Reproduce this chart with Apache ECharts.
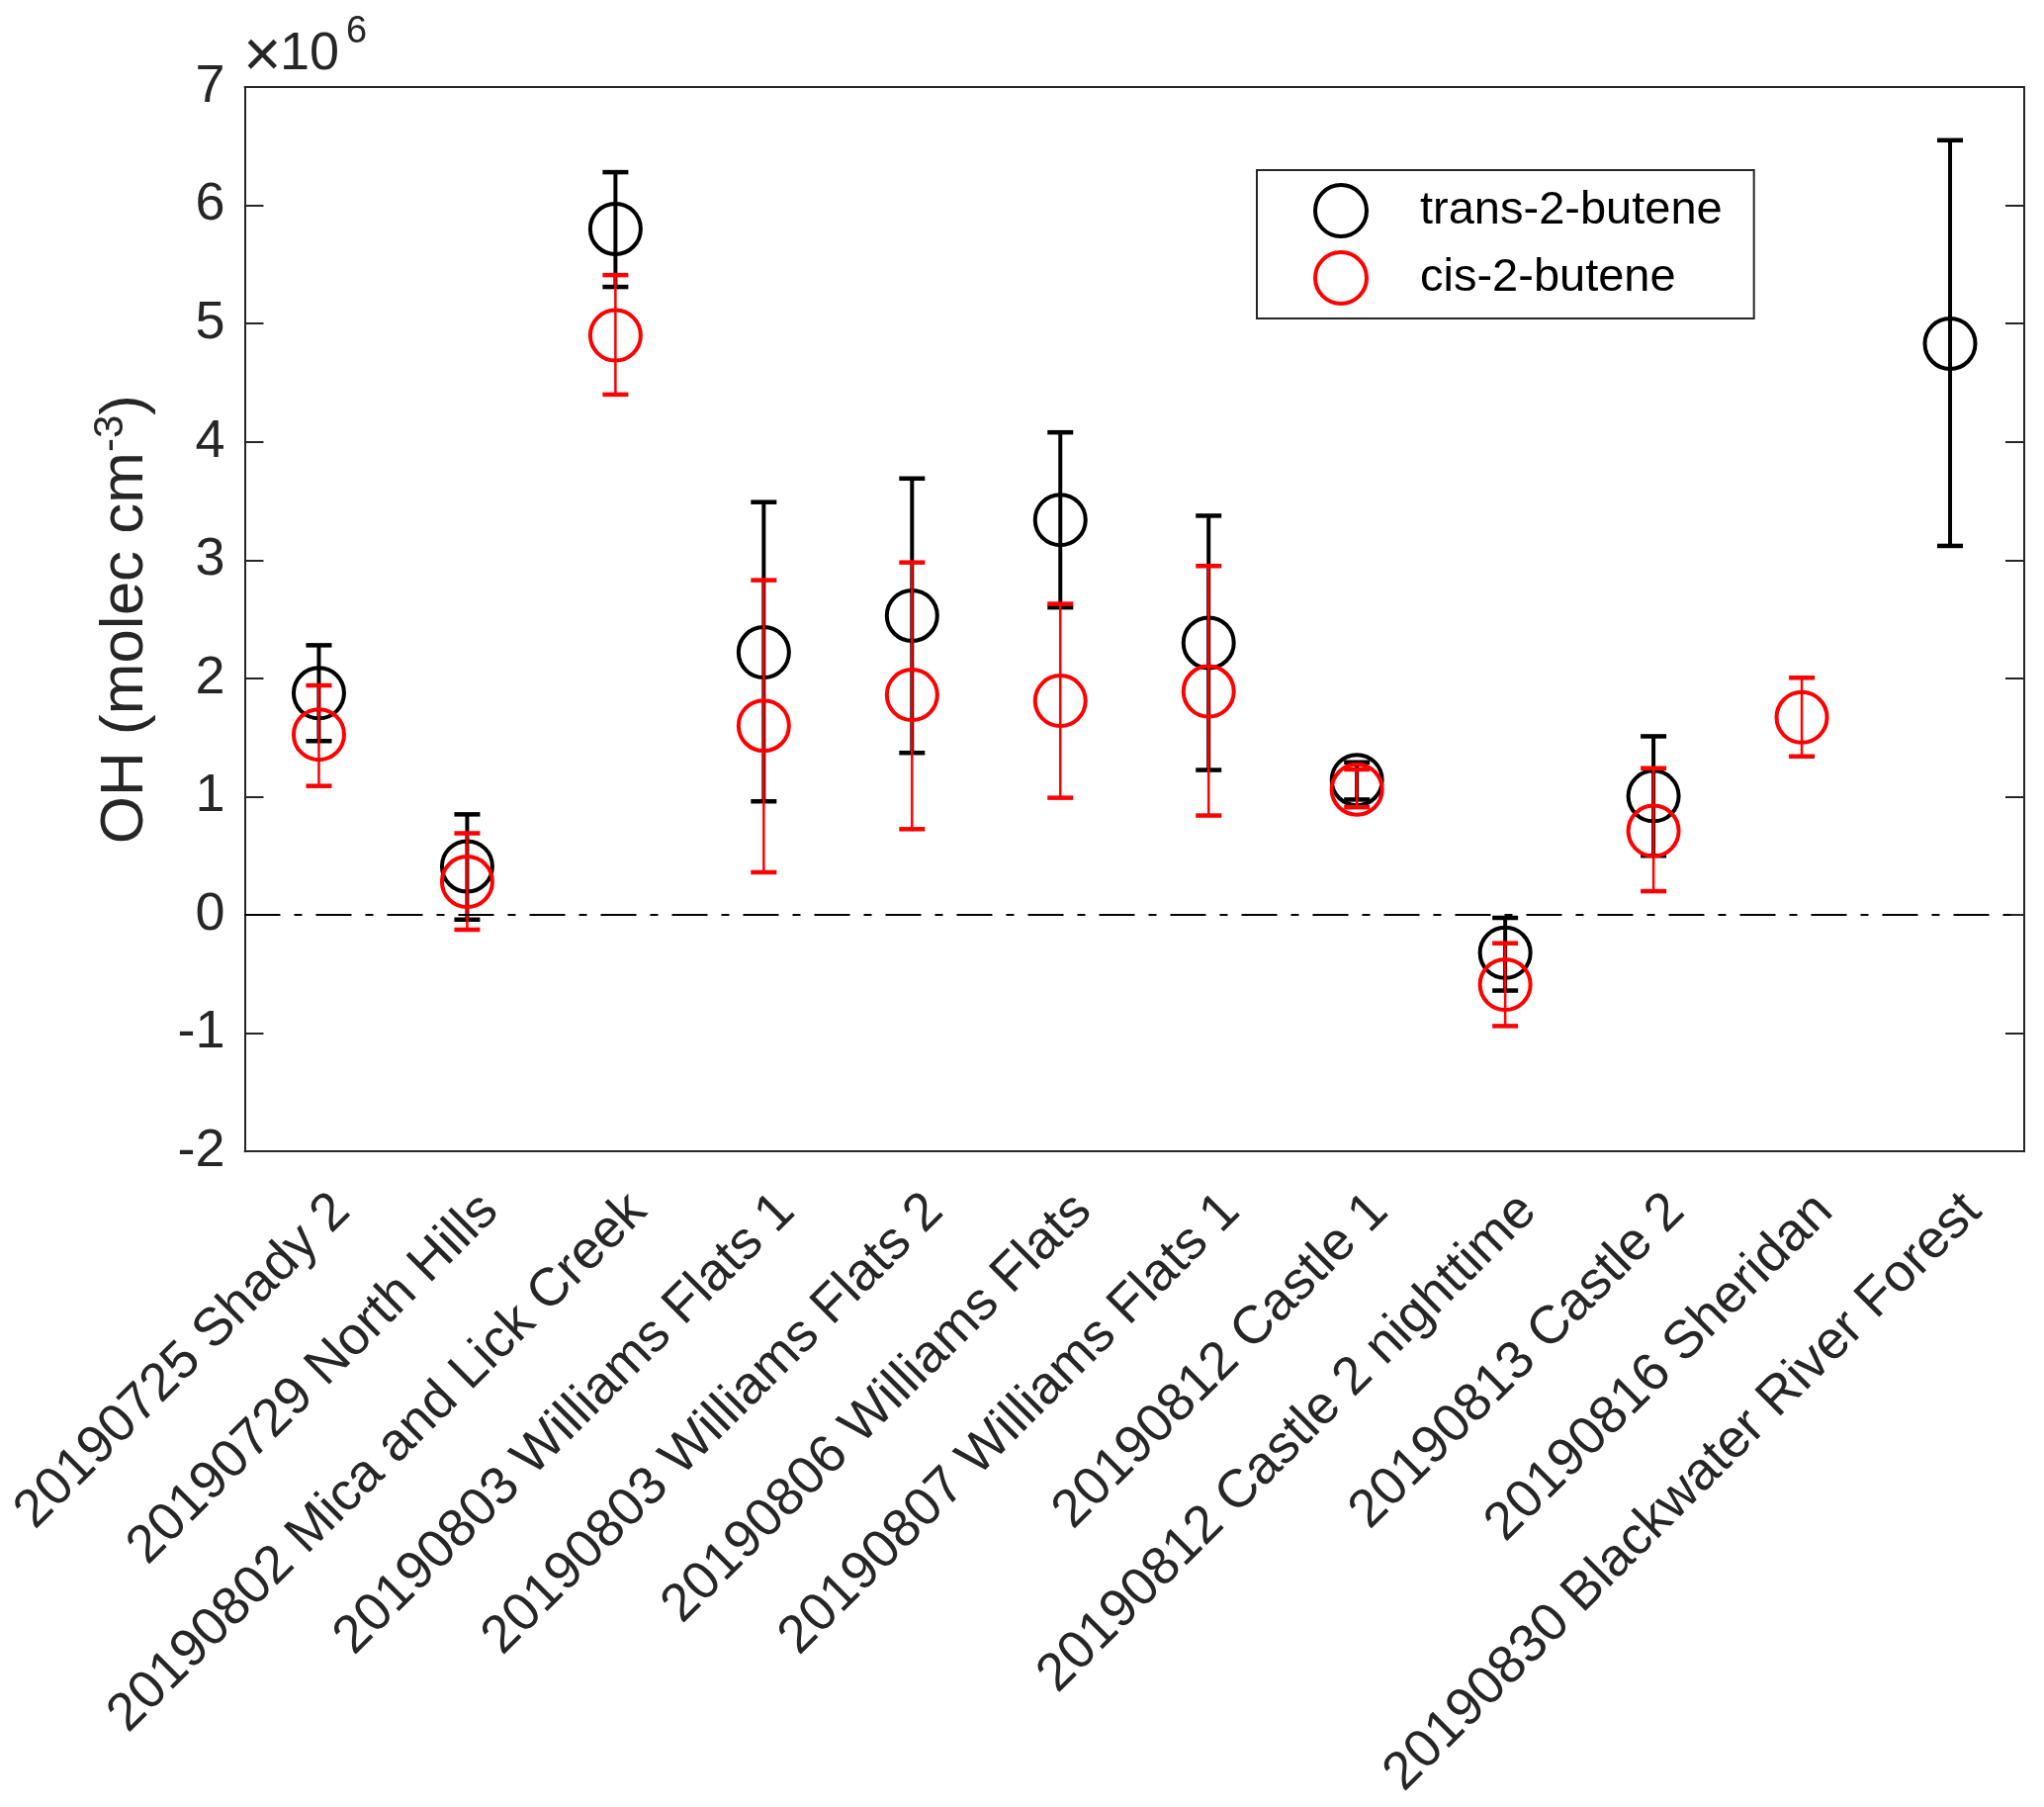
<!DOCTYPE html>
<html>
<head>
<meta charset="utf-8">
<script src="https://cdn.jsdelivr.net/npm/echarts@6/dist/echarts.min.js"></script>
<style>
html,body{margin:0;padding:0;background:#fff;}
#chart{width:2067px;height:1827px;}
</style>
</head>
<body>
<div id="chart"></div>
<script>
const categories = [
  '20190725 Shady 2',
  '20190729 North Hills',
  '20190802 Mica and Lick Creek',
  '20190803 Williams Flats 1',
  '20190803 Williams Flats 2',
  '20190806 Williams Flats',
  '20190807 Williams Flats 1',
  '20190812 Castle 1',
  '20190812 Castle 2 nighttime',
  '20190813 Castle 2',
  '20190816 Sheridan',
  '20190830 Blackwater River Forest'
];
const transMean = [1.875e6, 0.41e6, 5.80e6, 2.22e6, 2.53e6, 3.34e6, 2.30e6, 1.14e6, -0.32e6, 1.005e6, null, 4.83e6];
const transLow  = [1.47e6, -0.04e6, 5.31e6, 0.96e6, 1.37e6, 2.60e6, 1.225e6, 0.975e6, -0.64e6, 0.50e6, null, 3.12e6];
const transHigh = [2.28e6, 0.85e6, 6.28e6, 3.49e6, 3.69e6, 4.08e6, 3.375e6, 1.29e6, -0.025e6, 1.51e6, null, 6.55e6];
const cisMean = [1.525e6, 0.28e6, 4.90e6, 1.60e6, 1.86e6, 1.81e6, 1.89e6, 1.06e6, -0.59e6, 0.71e6, 1.67e6, null];
const cisLow  = [1.09e6, -0.125e6, 4.40e6, 0.36e6, 0.725e6, 0.99e6, 0.84e6, 0.91e6, -0.94e6, 0.20e6, 1.34e6, null];
const cisHigh = [1.94e6, 0.69e6, 5.41e6, 2.83e6, 2.98e6, 2.63e6, 2.95e6, 1.23e6, -0.24e6, 1.24e6, 2.005e6, null];
const yTicks = { min: -2e6, max: 7e6, interval: 1e6 };
const seriesNames = ['trans-2-butene', 'cis-2-butene'];

const FONT = 'Liberation Sans';
const AX = '#262626';

function pts(mean) {
  const out = [];
  mean.forEach((v, i) => { if (v !== null) out.push([i, v]); });
  return out;
}
function errs(low, high) {
  const out = [];
  low.forEach((v, i) => { if (v !== null) out.push([i, v, high[i]]); });
  return out;
}
function errRender(color, vWidth, capWidth) {
  return function (params, api) {
    const lo = api.coord([api.value(0), api.value(1)]);
    const hi = api.coord([api.value(0), api.value(2)]);
    const hw = 13;
    return {
      type: 'group',
      children: [
        { type: 'line', shape: { x1: lo[0], y1: lo[1], x2: hi[0], y2: hi[1] }, style: { stroke: color, lineWidth: vWidth } },
        { type: 'line', shape: { x1: lo[0] - hw, y1: lo[1], x2: lo[0] + hw, y2: lo[1] }, style: { stroke: color, lineWidth: capWidth } },
        { type: 'line', shape: { x1: hi[0] - hw, y1: hi[1], x2: hi[0] + hw, y2: hi[1] }, style: { stroke: color, lineWidth: capWidth } }
      ]
    };
  };
}

const chart = echarts.init(document.getElementById('chart'), null, { renderer: 'canvas' });
const xCommon = {
  type: 'category',
  data: categories,
  boundaryGap: true,
  axisLine: { onZero: false, lineStyle: { color: AX, width: 2 } },
  axisTick: { inside: true, length: 19, alignWithLabel: true, lineStyle: { color: AX, width: 2 } },
  splitLine: { show: false }
};
const yCommon = {
  type: 'value',
  min: yTicks.min, max: yTicks.max, interval: yTicks.interval,
  axisLine: { show: true, onZero: false, lineStyle: { color: AX, width: 2 } },
  axisTick: { show: true, inside: true, length: 19, lineStyle: { color: AX, width: 2 } },
  splitLine: { show: false }
};

chart.setOption({
  animation: false,
  backgroundColor: '#fff',
  grid: { left: 241, top: 88, right: 20, bottom: 657, containLabel: false },
  xAxis: [
    Object.assign({}, xCommon, {
      position: 'bottom',
      axisLabel: {
        rotate: 45, interval: 0, margin: 29,
        verticalAlign: 'top', lineHeight: 65,
        fontFamily: FONT, fontSize: 54, color: AX
      }
    }),
    Object.assign({}, xCommon, { position: 'top', axisLabel: { show: false } })
  ],
  yAxis: [
    Object.assign({}, yCommon, {
      position: 'left',
      axisLabel: {
        margin: 20, fontFamily: FONT, fontSize: 54, color: AX,
        formatter: v => String(Math.round(v / 1e6))
      },
      name: '{a|OH (molec cm}{s|-3}{a|)}',
      nameLocation: 'middle',
      nameGap: 86,
      nameTextStyle: {
        color: AX,
        rich: {
          a: { fontFamily: FONT, fontSize: 62, color: AX, lineHeight: 70 },
          s: { fontFamily: FONT, fontSize: 42, color: AX, verticalAlign: 'top', lineHeight: 42 }
        }
      }
    }),
    Object.assign({}, yCommon, { position: 'right', axisLabel: { show: false } })
  ],
  legend: {
    orient: 'vertical',
    left: 1271, top: 172,
    padding: [13, 32, 13, 57],
    itemGap: 12,
    itemWidth: 52, itemHeight: 52,
    borderColor: AX, borderWidth: 2,
    backgroundColor: '#fff',
    selectedMode: false,
    textStyle: { fontFamily: FONT, fontSize: 47, color: '#000', lineHeight: 52, padding: [0, 0, 0, 49] },
    data: [
      { name: seriesNames[0], icon: 'circle', itemStyle: { color: 'rgba(0,0,0,0)', borderColor: '#000', borderWidth: 4 } },
      { name: seriesNames[1], icon: 'circle', itemStyle: { color: 'rgba(0,0,0,0)', borderColor: '#ff0000', borderWidth: 4 } }
    ]
  },
  graphic: [
    { type: 'text', style: { x: 246, y: 59, text: '×', font: '66px "Liberation Sans"', fill: AX, verticalAlign: 'middle' } },
    { type: 'text', style: { x: 283, y: 55, text: '10', font: '54px "Liberation Sans"', fill: AX, verticalAlign: 'middle' } },
    { type: 'text', style: { x: 350, y: 33, text: '6', font: '38px "Liberation Sans"', fill: AX, verticalAlign: 'middle' } }
  ],
  series: [
    {
      name: 'trans err', type: 'custom', renderItem: errRender('#000', 4, 4.5),
      data: errs(transLow, transHigh), encode: { x: 0, y: [1, 2] }, silent: true, z: 2,
      markLine: {
        silent: true, symbol: 'none', label: { show: false },
        lineStyle: { color: '#000', width: 2, type: [36, 14, 8, 14] },
        data: [{ yAxis: 0 }]
      }
    },
    {
      name: seriesNames[0], type: 'scatter', data: pts(transMean), symbol: 'circle', symbolSize: 51,
      itemStyle: { color: 'rgba(0,0,0,0)', borderColor: '#000', borderWidth: 4, opacity: 1 }, silent: true, z: 3
    },
    {
      name: 'cis err', type: 'custom', renderItem: errRender('#ff0000', 2.5, 4.5),
      data: errs(cisLow, cisHigh), encode: { x: 0, y: [1, 2] }, silent: true, z: 4
    },
    {
      name: seriesNames[1], type: 'scatter', data: pts(cisMean), symbol: 'circle', symbolSize: 51,
      itemStyle: { color: 'rgba(0,0,0,0)', borderColor: '#ff0000', borderWidth: 4, opacity: 1 }, silent: true, z: 5
    }
  ]
});
</script>
</body>
</html>
